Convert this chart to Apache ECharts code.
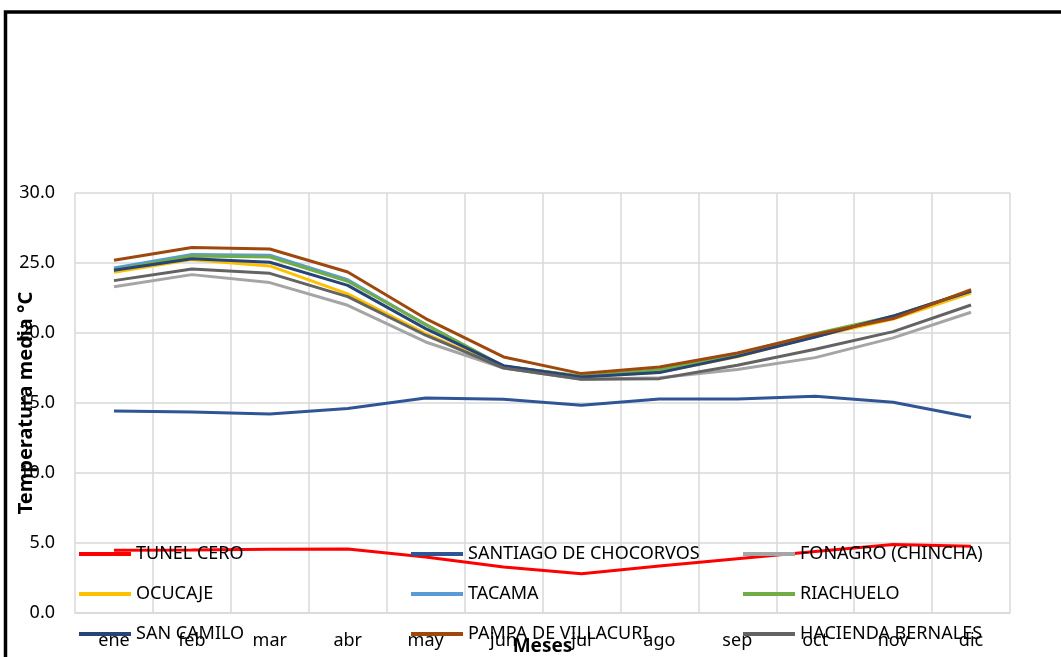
<!DOCTYPE html>
<html>
<head>
<meta charset="utf-8">
<script src="https://cdn.jsdelivr.net/npm/echarts@6/dist/echarts.min.js"></script>
<style>html,body{margin:0;padding:0;background:#fff}#c{width:1061px;height:657px}</style>
</head>
<body>
<div id="c"></div>
<script>
const months = ['ene','feb','mar','abr','may','jun','jul','ago','sep','oct','nov','dic'];
const yTicks = [0, 5, 10, 15, 20, 25, 30];

const tunelCero   = [4.48, 4.50, 4.55, 4.57, 4.00, 3.29, 2.81, 3.36, 3.88, 4.40, 4.90, 4.76];
const santiago    = [14.43, 14.36, 14.21, 14.60, 15.36, 15.26, 14.84, 15.29, 15.29, 15.48, 15.05, 13.98];
const fonagro     = [23.31, 24.17, 23.60, 21.98, 19.36, 17.50, 16.69, 16.80, 17.40, 18.24, 19.65, 21.48];
const ocucaje     = [24.34, 25.24, 24.79, 22.80, 19.95, 17.55, 16.86, 17.20, 18.30, 19.75, 21.00, 22.86];
const tacama      = [24.64, 25.60, 25.55, 23.80, 20.60, 17.62, 16.90, 17.35, 18.45, 19.90, 21.15, 23.00];
const riachuelo   = [24.50, 25.50, 25.43, 23.70, 20.62, 17.62, 16.93, 17.38, 18.50, 19.95, 21.20, 23.00];
const sanCamilo   = [24.48, 25.31, 25.05, 23.40, 20.31, 17.67, 16.86, 17.17, 18.33, 19.71, 21.21, 23.00];
const pampa       = [25.19, 26.10, 26.00, 24.36, 21.03, 18.29, 17.10, 17.57, 18.57, 19.90, 21.03, 23.10];
const hacienda    = [23.74, 24.57, 24.26, 22.60, 19.84, 17.50, 16.69, 16.74, 17.69, 18.84, 20.10, 22.00];

const seriesDefs = [
  ['TUNEL CERO', tunelCero, '#FF0000'],
  ['SANTIAGO DE CHOCORVOS', santiago, '#2F5597'],
  ['FONAGRO (CHINCHA)', fonagro, '#A5A5A5'],
  ['OCUCAJE', ocucaje, '#FFC000'],
  ['TACAMA', tacama, '#5B9BD5'],
  ['RIACHUELO', riachuelo, '#70AD47'],
  ['SAN CAMILO', sanCamilo, '#264478'],
  ['PAMPA DE VILLACURI', pampa, '#9E480E'],
  ['HACIENDA BERNALES', hacienda, '#636363']
];

const FONT = '"Noto Sans", "Open Sans", sans-serif';
const legendBase = {
  orient: 'vertical', icon: 'rect', itemWidth: 52, itemHeight: 4, itemGap: 18,
  top: 543, padding: 0, selectedMode: false,
  textStyle: { fontFamily: FONT, fontSize: 18, color: '#000', lineHeight: 22 }
};

const chart = echarts.init(document.getElementById('c'), null, { renderer: 'canvas' });
chart.setOption({
  animation: false,
  backgroundColor: '#fff',
  grid: { left: 75, right: 51, top: 193, bottom: 44, containLabel: false, outerBoundsMode: 'none' },
  xAxis: {
    type: 'category', data: months, boundaryGap: true,
    name: 'Meses', nameLocation: 'middle', nameGap: 24, nameMoveOverlap: false,
    nameTextStyle: { fontFamily: FONT, fontSize: 19, fontWeight: 'bold', color: '#000' },
    axisLine: { lineStyle: { color: '#D9D9D9', width: 1.5 } },
    axisTick: { show: false },
    axisLabel: { fontFamily: FONT, fontSize: 18, color: '#000', margin: 19 },
    splitLine: { show: true, lineStyle: { color: '#D9D9D9', width: 1.5 } }
  },
  yAxis: {
    type: 'value', min: yTicks[0], max: yTicks[yTicks.length-1], interval: 5,
    name: 'Temperatura media °C', nameLocation: 'middle', nameGap: 39, nameMoveOverlap: false,
    nameTextStyle: { fontFamily: FONT, fontSize: 20, fontWeight: 'bold', color: '#000' },
    axisLine: { show: false }, axisTick: { show: false },
    axisLabel: { fontFamily: FONT, fontSize: 18, color: '#000', margin: 20,
      formatter: v => v.toFixed(1) },
    splitLine: { lineStyle: { color: '#D9D9D9', width: 1.5 } }
  },
  legend: [
    Object.assign({}, legendBase, { left: 79, data: ['TUNEL CERO','OCUCAJE','SAN CAMILO'] }),
    Object.assign({}, legendBase, { left: 411, data: ['SANTIAGO DE CHOCORVOS','TACAMA','PAMPA DE VILLACURI'] }),
    Object.assign({}, legendBase, { left: 743, data: ['FONAGRO (CHINCHA)','RIACHUELO','HACIENDA BERNALES'] })
  ],
  graphic: [{
    type: 'rect', silent: true, z: 100,
    shape: { x: 5.5, y: 12, width: 1100, height: 700 },
    style: { fill: 'none', stroke: '#000', lineWidth: 3.5 }
  }],
  series: seriesDefs.map(([name, data, color]) => ({
    name, type: 'line', data, showSymbol: false, symbol: 'none',
    color, lineStyle: { color, width: 3 }, z: 2
  }))
});
</script>
</body>
</html>
